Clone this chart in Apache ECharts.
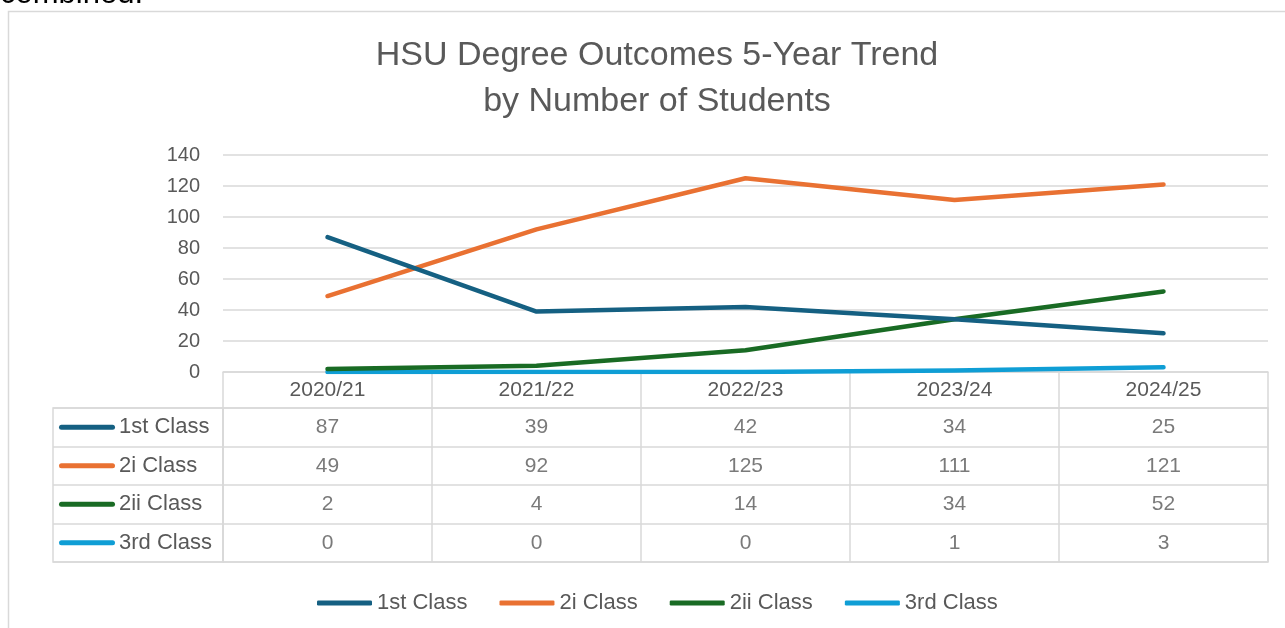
<!DOCTYPE html>
<html>
<head>
<meta charset="utf-8">
<script src="https://cdn.jsdelivr.net/npm/echarts@6/dist/echarts.min.js"></script>
<style>
  html, body { margin: 0; padding: 0; background: #fff; }
  #chart { width: 1285px; height: 628px; }
</style>
</head>
<body>
<div id="chart"></div>
<script>
// data
var years = ['2020/21', '2021/22', '2022/23', '2023/24', '2024/25'];
var classes = ['1st Class', '2i Class', '2ii Class', '3rd Class'];
var firstClass = [87, 39, 42, 34, 25];
var twoOneClass = [49, 92, 125, 111, 121];
var twoTwoClass = [2, 4, 14, 34, 52];
var thirdClass = [0, 0, 0, 1, 3];
var yMin = 0, yMax = 140, yStep = 20;

var colors = ['#156082', '#E97132', '#196B24', '#0F9ED5'];
var values = [firstClass, twoOneClass, twoTwoClass, thirdClass];
var grey = '#595959';
var lineGrey = '#d9d9d9';
var font = 'Liberation Sans, Arial, sans-serif';

// cells of the data table: [yearIndex, classIndex, value]
var cells = [];
values.forEach(function (row, i) {
  row.forEach(function (v, j) { cells.push([j, i, v]); });
});

var rich = {};
colors.forEach(function (c, i) {
  rich['c' + i] = { width: 56, height: 5, backgroundColor: c, borderRadius: 3 };
});
rich.t = { fontSize: 22, color: grey, fontFamily: font, padding: [0, 0, 0, 4] };

var lineSeries = classes.map(function (name, i) {
  return {
    name: name,
    type: 'line',
    xAxisIndex: 0,
    yAxisIndex: 0,
    data: values[i],
    symbol: 'none',
    color: colors[i],
    lineStyle: { width: 4.5, cap: 'round', join: 'round' },
    z: 3 + (3 - i)
  };
});

var chart = echarts.init(document.getElementById('chart'));
chart.setOption({
  backgroundColor: '#fff',
  animation: false,
  textStyle: { fontFamily: font },
  title: {
    text: 'HSU Degree Outcomes 5-Year Trend\nby Number of Students',
    left: 652,
    top: 28,
    textAlign: 'center',
    textStyle: { fontSize: 34, fontWeight: 'normal', color: grey, lineHeight: 46, fontFamily: font }
  },
  graphic: [
    { type: 'rect', z: -1, shape: { x: 8.5, y: 11.5, width: 1400, height: 700 },
      style: { fill: null, stroke: lineGrey, lineWidth: 1.5 } },
    { type: 'text', left: 0, top: -21,
      style: { text: 'combined.', fontSize: 31, fill: '#000', fontFamily: font } }
  ],
  legend: {
    data: classes,
    left: 312,
    top: 587,
    icon: 'roundRect',
    itemWidth: 55,
    itemHeight: 5,
    itemGap: 32,
    textStyle: { fontSize: 22, color: grey, fontFamily: font }
  },
  grid: [
    { left: 223, right: 17, top: 155, height: 217 },
    { left: 223, right: 17, top: 408, height: 154, show: true, borderColor: lineGrey, borderWidth: 1.5 },
    { left: 53, width: 170, top: 408, height: 154, show: true, borderColor: lineGrey, borderWidth: 1.5 }
  ],
  xAxis: [
    {
      type: 'category', gridIndex: 0, data: years,
      axisLine: { lineStyle: { color: lineGrey, width: 1.5 } },
      axisTick: { show: true, interval: 0, length: 36, lineStyle: { color: lineGrey, width: 1.5 } },
      axisLabel: { fontSize: 21, color: grey, margin: 8 }
    },
    {
      type: 'category', gridIndex: 1, data: years,
      axisLine: { show: false }, axisTick: { show: false }, axisLabel: { show: false },
      splitLine: { show: true, interval: 0, lineStyle: { color: lineGrey, width: 1.5 } }
    },
    { type: 'value', gridIndex: 2, show: false }
  ],
  yAxis: [
    {
      type: 'value', gridIndex: 0, min: yMin, max: yMax, interval: yStep,
      axisLine: { show: false }, axisTick: { show: false },
      axisLabel: { fontSize: 20, color: grey, margin: 23 },
      splitLine: { lineStyle: { color: lineGrey, width: 1.5 } }
    },
    {
      type: 'category', gridIndex: 1, data: classes, inverse: true,
      axisLine: { show: false }, axisTick: { show: false }, axisLabel: { show: false },
      splitLine: { show: true, interval: 0, lineStyle: { color: lineGrey, width: 1.5 } }
    },
    {
      type: 'category', gridIndex: 2, data: classes, inverse: true,
      axisLine: { show: false }, axisTick: { show: false },
      axisLabel: {
        inside: true, margin: 6, align: 'left',
        formatter: function (v, i) { return '{c' + i + '|}{t|' + v + '}'; },
        rich: rich
      },
      splitLine: { show: true, interval: 0, lineStyle: { color: lineGrey, width: 1.5 } }
    }
  ],
  series: lineSeries.concat([{
    type: 'scatter',
    xAxisIndex: 1,
    yAxisIndex: 1,
    data: cells,
    symbolSize: 1,
    silent: true,
    itemStyle: { color: 'rgba(0,0,0,0)' },
    label: {
      show: true, position: 'inside', fontSize: 21, color: grey, fontFamily: font,
      formatter: function (p) { return String(p.value[2]); }
    }
  }])
});
</script>
</body>
</html>
